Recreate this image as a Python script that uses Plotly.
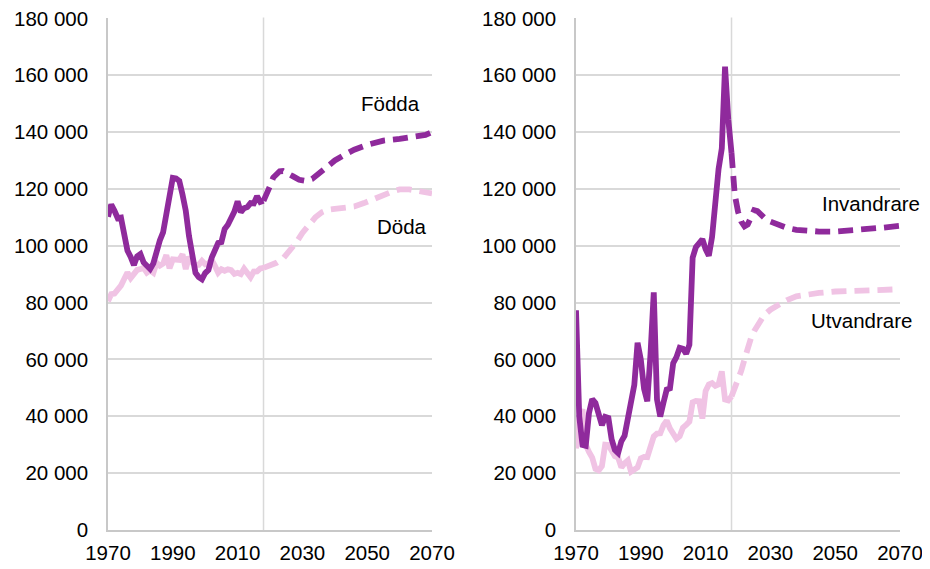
import plotly.graph_objects as go
from plotly.subplots import make_subplots

# Historical years 1970-2018
years = list(range(1970, 2019))

fodda = [110.2, 114.5, 112.3, 109.7, 109.9, 103.6, 98.3, 96.1, 93.2, 96.3,
         97.1, 94.1, 92.7, 91.8, 93.8, 98.5, 101.9, 104.7, 112.1, 116.4,
         123.9, 123.7, 122.8, 118.0, 112.3, 103.4, 95.3, 90.5, 89.0, 88.2,
         90.4, 91.5, 95.8, 99.2, 101.0, 101.3, 105.9, 107.4, 109.3, 112.0,
         115.6, 111.8, 113.2, 113.6, 115.0, 114.9, 117.4, 115.4, 115.8]

doda = [80.5, 83.0, 83.2, 84.5, 86.0, 88.3, 90.6, 88.6, 90.5, 91.5,
        91.8, 92.2, 90.5, 91.3, 90.5, 94.0, 93.0, 93.7, 96.7, 92.1,
        95.2, 95.2, 95.0, 97.0, 91.8, 96.1, 94.1, 93.3, 93.3, 94.7,
        93.5, 93.8, 95.0, 92.9, 90.5, 91.7, 91.2, 91.7, 91.4, 90.1,
        90.5, 90.0, 91.9, 90.4, 88.9, 90.9, 91.0, 92.0, 92.2]

invandrare = [77.3, 40.0, 29.9, 29.6, 41.1, 46.0, 44.7, 41.1, 36.9, 39.8,
              39.4, 31.9, 28.2, 27.1, 31.2, 33.2, 39.5, 43.0, 51.1, 65.9,
              60.0, 49.7, 45.3, 61.9, 83.6, 45.9, 39.9, 44.8, 49.4, 49.8,
              58.7, 60.8, 64.1, 63.8, 62.0, 65.2, 95.8, 99.5, 101.2, 102.3,
              98.8, 96.5, 103.1, 115.8, 127.0, 134.2, 163.0, 144.5, 132.6]

utvandrare = [28.7, 39.4, 42.5, 30.0, 27.5, 25.5, 21.5, 21.0, 22.5, 30.0,
              29.9, 27.5, 26.0, 25.5, 22.0, 23.5, 24.5, 20.5, 21.5, 22.0,
              25.2, 25.7, 25.6, 29.9, 32.9, 33.9, 34.0, 36.9, 38.5, 35.7,
              34.1, 32.1, 33.0, 36.0, 37.0, 38.1, 44.9, 45.4, 45.3, 39.2,
              48.9, 51.2, 51.7, 50.7, 51.2, 55.8, 45.9, 45.6, 47.0]

# Projections
proj_years_f = [2018, 2019, 2020, 2021, 2022, 2023, 2024, 2025, 2027, 2029,
                2031, 2033, 2035, 2037, 2040, 2043, 2046, 2050, 2055, 2060,
                2065, 2068, 2070]
fodda_proj = [115.8, 118.0, 121.0, 124.0, 125.5, 126.2, 126.3, 125.8, 124.5, 123.2,
              122.8, 123.5, 125.5, 127.5, 130.0, 132.0, 133.8, 135.5, 137.0, 137.6,
              138.3, 139.0, 140.0]

proj_years_d = [2018, 2020, 2022, 2024, 2026, 2028, 2030, 2032, 2034, 2036,
                2038, 2040, 2043, 2046, 2049, 2052, 2055, 2058, 2060, 2063,
                2066, 2070]
doda_proj = [92.2, 93.0, 94.0, 95.5, 98.0, 101.0, 104.5, 107.5, 110.0, 111.8,
             112.7, 113.0, 113.3, 113.8, 115.0, 116.5, 117.8, 119.2, 119.8, 119.8,
             119.2, 118.4]

proj_years_i = [2018, 2019, 2020, 2021, 2022, 2023, 2024, 2025, 2026, 2027,
                2028, 2030, 2032, 2035, 2038, 2041, 2045, 2050, 2055, 2060,
                2065, 2070]
inv_proj = [132.6, 118.0, 112.0, 108.5, 106.8, 107.5, 110.0, 112.5, 112.2, 111.0,
            110.0, 108.5, 107.5, 106.3, 105.6, 105.2, 105.0, 105.0, 105.3, 105.8,
            106.4, 107.0]

proj_years_u = [2018, 2019, 2020, 2021, 2022, 2023, 2024, 2025, 2026, 2027,
                2028, 2030, 2032, 2035, 2038, 2041, 2045, 2050, 2055, 2060,
                2065, 2070]
utv_proj = [47.0, 50.0, 52.5, 56.0, 60.0, 64.0, 67.5, 70.0, 72.0, 74.0,
            75.5, 77.5, 79.0, 80.8, 82.2, 82.8, 83.4, 83.9, 84.2, 84.4,
            84.5, 84.7]

proj_start = 2018
y_ticks = list(range(0, 180001, 20000))
x_ticks = list(range(1970, 2071, 20))

dark = "#8f2a9c"
light = "#f0c3e4"
dash = "15px,8px"
lw = 5.8

# page body has an 8px margin, so the figure is drawn slightly smaller
W, H, OFF = 922, 561, 8


def k(vals):
    return [v * 1000 for v in vals]


fig = make_subplots(rows=1, cols=2)

fig.add_trace(go.Scatter(x=years, y=k(doda), mode="lines",
                         line=dict(color=light, width=lw)), row=1, col=1)
fig.add_trace(go.Scatter(x=proj_years_d, y=k(doda_proj), mode="lines",
                         line=dict(color=light, width=lw, dash=dash)), row=1, col=1)
fig.add_trace(go.Scatter(x=years, y=k(fodda), mode="lines",
                         line=dict(color=dark, width=lw)), row=1, col=1)
fig.add_trace(go.Scatter(x=proj_years_f, y=k(fodda_proj), mode="lines",
                         line=dict(color=dark, width=lw, dash=dash)), row=1, col=1)

fig.add_trace(go.Scatter(x=years, y=k(utvandrare), mode="lines",
                         line=dict(color=light, width=lw)), row=1, col=2)
fig.add_trace(go.Scatter(x=proj_years_u, y=k(utv_proj), mode="lines",
                         line=dict(color=light, width=lw, dash=dash)), row=1, col=2)
fig.add_trace(go.Scatter(x=years, y=k(invandrare), mode="lines",
                         line=dict(color=dark, width=lw)), row=1, col=2)
fig.add_trace(go.Scatter(x=proj_years_i, y=k(inv_proj), mode="lines",
                         line=dict(color=dark, width=lw, dash=dash)), row=1, col=2)

for c in (1, 2):
    fig.add_vline(x=proj_start, line_color="#d9d9d9", line_width=1.5,
                  layer="below", row=1, col=c)

axis_font = dict(family="Liberation Sans, Arial, sans-serif", size=20.5, color="black")
fig.update_xaxes(range=[1970, 2070], tickvals=x_ticks, tickformat="d",
                 showgrid=False, zeroline=False, showline=True,
                 linecolor="#c8c8c8", linewidth=1.5, ticks="",
                 tickfont=axis_font, ticklabelstandoff=4, automargin=False,
                 ticklabeloverflow="allow")
fig.update_yaxes(range=[0, 180300], tickvals=y_ticks, tickformat=",d",
                 showgrid=True, gridcolor="#d9d9d9", gridwidth=1.5,
                 zeroline=False, showline=True, linecolor="#c8c8c8",
                 linewidth=1.5, ticks="", tickfont=axis_font,
                 ticklabelstandoff=14, automargin=False,
                 ticklabeloverflow="allow")

fig.update_layout(
    width=W, height=H,
    margin=dict(l=0, r=0, t=0, b=0),
    paper_bgcolor="white", plot_bgcolor="white",
    showlegend=False,
    separators=". ",
    xaxis=dict(domain=[(108 - OFF) / W, (432 - OFF) / W]),
    xaxis2=dict(domain=[(576 - OFF) / W, (900 - OFF) / W]),
    yaxis=dict(domain=[1 - (530 - OFF) / H, 1 - (17.5 - OFF) / H]),
    yaxis2=dict(domain=[1 - (530 - OFF) / H, 1 - (17.5 - OFF) / H]),
)

label_font = dict(family="Liberation Sans, Arial, sans-serif", size=20.5, color="black")
labels = [("Födda", 2057.3, 150100, "x", "y"),
          ("Döda", 2060.8, 106900, "x", "y"),
          ("Invandrare", 2061.2, 115000, "x2", "y2"),
          ("Utvandrare", 2058.0, 73800, "x2", "y2")]
for text, lx, ly, xr, yr in labels:
    fig.add_annotation(text=text, x=lx, y=ly, xref=xr, yref=yr,
                       showarrow=False, font=label_font)

fig.write_html("out.html")
